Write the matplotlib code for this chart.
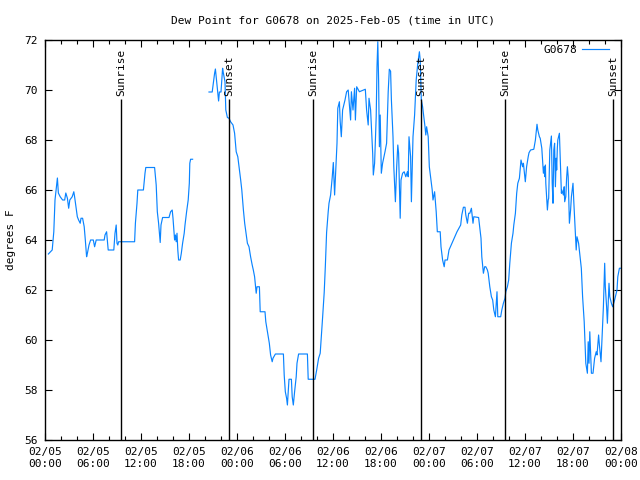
import numpy as np
import pandas as pd
import matplotlib
matplotlib.use('Agg')
import matplotlib.pyplot as plt
import matplotlib.dates as mdates

plt.rcParams['font.family'] = 'DejaVu Sans Mono'
plt.rcParams['font.size'] = 8

station = "G0678"
title = "Dew Point for G0678 on 2025-Feb-05 (time in UTC)"
start = pd.Timestamp("2025-02-05 00:00")

# hours since start, dew point (F); NaN marks the data gap
hours = [0.42, 0.9, 1.1, 1.25, 1.4, 1.55, 1.67, 1.9, 2.2, 2.46, 2.6, 2.8, 2.96, 3.1, 3.4,
         3.6, 3.7, 3.9, 4.04, 4.2, 4.4, 4.5, 4.7, 4.9, 5.04, 5.2, 5.3, 5.5, 5.7, 6.04,
         6.2, 6.4, 7.4, 7.5, 7.7, 7.9, 8.6, 8.75, 8.9, 9.0, 9.1, 9.2, 11.2, 11.3, 11.5,
         11.6, 12.3, 12.5, 12.6, 13.7, 13.9, 14.04, 14.2, 14.4, 14.5, 14.7, 15.5, 15.7, 15.9, 16.0,
         16.2, 16.3, 16.4, 16.5, 16.6, 16.7, 16.9, 17.04, 17.2, 17.4, 17.5, 17.7, 17.9, 18.04, 18.1,
         18.2, 18.45,
         19.5,
         20.5, 20.9, 21.04, 21.2, 21.3, 21.4, 21.6, 21.7, 21.8, 22.0, 22.2, 22.3, 22.5, 22.6, 22.8,
         23.0, 23.2, 23.5, 23.7, 23.9, 24.1, 24.46, 24.6, 24.8, 24.96, 25.1, 25.3, 25.5, 25.7, 25.9,
         26.04, 26.2, 26.4, 26.5, 26.8, 26.9, 27.5, 27.6, 27.9, 28.04, 28.2, 28.4, 28.5, 28.8, 29.8,
         29.9, 30.04, 30.2, 30.3, 30.4, 30.5, 30.8, 30.9, 31.04, 31.2, 31.4, 31.5, 31.7, 32.8, 32.9,
         33.75, 33.96, 34.2, 34.4, 34.5, 34.7, 34.9, 35.04, 35.2, 35.4, 35.5, 35.7, 35.9, 36.04, 36.2,
         36.5, 36.6, 36.8, 36.9, 37.04, 37.2, 37.5, 37.7, 37.9, 38.2, 38.3, 38.5, 38.7, 38.8, 38.96,
         39.3, 40.04, 40.2, 40.4, 40.5, 40.7, 40.96, 41.04, 41.2, 41.4, 41.5, 41.6, 41.7, 41.8, 41.9,
         42.04, 42.2, 42.5, 42.7, 42.9, 43.04, 43.2, 43.3, 43.5, 43.6, 43.8, 43.96, 44.1, 44.2, 44.4,
         44.5, 44.7, 44.9, 45.1, 45.3, 45.4, 45.5, 45.7, 45.8, 46.0, 46.2, 46.4, 46.6, 46.8, 46.9,
         47.04, 47.2, 47.5, 47.6, 47.7, 47.9, 48.04, 48.2, 48.4, 48.5, 48.7, 48.9, 49.04, 49.4, 49.5,
         49.7, 49.9, 50.0, 50.3, 50.5, 51.04, 51.5, 51.96, 52.1, 52.3, 52.5, 52.6, 52.8, 52.96, 53.1,
         53.3, 53.5, 53.6, 54.2, 54.5, 54.6, 54.8, 54.96, 55.1, 55.3, 55.4, 55.6, 55.8, 55.96, 56.1,
         56.3, 56.5, 56.6, 56.96, 57.1, 57.3, 57.5, 57.6, 57.8, 57.96, 58.1, 58.3, 58.5, 58.6, 58.8,
         58.96, 59.1, 59.3, 59.5, 59.7, 59.8, 60.04, 60.2, 60.4, 60.5, 60.7, 61.1, 61.3, 61.5, 61.6,
         61.8, 61.9, 62.1, 62.3, 62.4, 62.5, 62.55, 62.6, 62.8, 62.9, 62.96, 63.1, 63.3, 63.4, 63.5,
         63.6, 63.7, 63.8, 63.9, 63.96, 64.04, 64.1, 64.3, 64.4, 64.5, 64.55, 64.6, 64.8, 64.9, 64.96,
         65.1, 65.2, 65.3, 65.4, 65.5, 65.55, 65.7, 65.8, 65.9, 66.0, 66.1, 66.3, 66.4, 66.5, 66.7,
         66.9, 67.04, 67.2, 67.4, 67.5, 67.6, 67.8, 67.9, 68.0, 68.1, 68.3, 68.5, 68.7, 68.9, 69.0,
         69.2, 69.3, 69.5, 69.6, 69.8, 69.96, 70.04, 70.2, 70.3, 70.5, 70.6, 70.8, 70.96, 71.2, 71.5,
         71.6, 71.8, 71.96]

dewpoint = [63.44, 63.6, 64.33, 65.6, 66.04, 66.48, 65.88, 65.73, 65.6, 65.6, 65.88, 65.67, 65.27, 65.6, 65.73,
            65.93, 65.73, 65.27, 64.93, 64.8, 64.67, 64.87, 64.87, 64.53, 64.0, 63.33, 63.47, 63.8, 64.0, 64.0,
            63.73, 64.0, 64.0, 64.2, 64.33, 63.6, 63.6, 64.27, 64.6, 63.87, 63.8, 63.93, 63.93, 64.67, 65.47,
            66.0, 66.0, 66.67, 66.9, 66.9, 66.2, 65.13, 64.67, 63.9, 64.6, 64.9, 64.9, 65.13, 65.2, 64.87,
            64.0, 64.2, 63.93, 64.27, 63.6, 63.2, 63.2, 63.47, 63.87, 64.27, 64.6, 65.13, 65.6, 66.27, 67.07,
            67.23, 67.23,
            np.nan,
            69.92, 69.92, 70.27, 70.67, 70.84, 70.53, 69.92, 69.56, 69.92, 69.92, 70.87, 70.67, 70.33, 69.2, 68.9,
            68.87, 68.73, 68.6, 68.27, 67.53, 67.33, 66.4, 66.0, 65.2, 64.67, 64.33, 63.87, 63.73, 63.33, 63.0,
            62.8, 62.53, 61.87, 62.13, 62.13, 61.13, 61.13, 60.73, 60.13, 59.87, 59.4, 59.13, 59.27, 59.44, 59.44,
            58.6, 57.93, 57.67, 57.4, 57.93, 58.43, 58.43, 57.73, 57.4, 57.93, 58.53, 59.07, 59.44, 59.44, 58.43,
            58.43, 58.8, 59.27, 59.47, 59.93, 60.9, 61.9, 62.93, 64.3, 65.13, 65.47, 65.8, 66.5, 67.1, 65.8,
            67.87, 69.27, 69.53, 68.73, 68.13, 69.2, 69.6, 69.93, 70.0, 68.8, 69.93, 69.2, 70.07, 68.8, 70.13,
            69.93, 70.03, 69.2, 68.6, 69.67, 69.2, 67.47, 66.6, 67.07, 68.93, 70.93, 71.93, 70.4, 67.73, 69.0,
            66.67, 67.07, 67.53, 67.87, 69.93, 70.83, 70.75, 69.6, 68.13, 66.93, 65.53, 66.93, 67.8, 67.47, 64.87,
            66.4, 66.67, 66.73, 66.53, 66.73, 66.53, 68.13, 67.33, 65.53, 68.13, 69.0, 70.4, 71.07, 71.53, 71.2,
            69.6, 69.33, 68.53, 68.2, 68.53, 68.13, 66.93, 66.53, 66.0, 65.6, 65.93, 65.13, 64.33, 64.33, 63.73,
            63.2, 62.93, 63.2, 63.2, 63.6, 64.0, 64.33, 64.6, 65.0, 65.31, 65.31, 65.0, 64.67, 65.07, 65.07,
            65.27, 64.67, 64.93, 64.9, 64.07, 63.33, 62.67, 62.93, 62.93, 62.8, 62.67, 62.13, 61.73, 61.6, 61.2,
            60.93, 61.93, 60.93, 60.93, 61.2, 61.47, 61.67, 61.93, 62.13, 62.4, 63.07, 63.87, 64.27, 64.6, 65.07,
            65.87, 66.27, 66.47, 67.2, 66.93, 67.07, 66.33, 66.93, 67.33, 67.49, 67.6, 67.63, 68.0, 68.63, 68.4,
            68.13, 68.07, 67.67, 66.67, 66.93, 66.53, 67.0, 66.27, 65.2, 65.6, 65.67, 67.6, 68.16, 66.27, 65.47,
            67.6, 67.87, 66.13, 67.27, 66.8, 67.67, 68.0, 68.27, 67.33, 66.4, 65.87, 66.0, 65.8, 66.13, 65.53,
            65.73, 66.47, 66.93, 66.53, 65.2, 64.67, 65.2, 65.73, 66.0, 66.27, 65.53, 64.2, 63.6, 64.13, 63.87,
            63.27, 62.87, 61.73, 60.73, 59.93, 59.07, 58.67, 59.93, 59.07, 60.33, 58.67, 58.67, 59.27, 59.53, 59.4,
            60.2, 59.8, 59.13, 59.87, 61.33, 63.07, 62.13, 61.33, 60.67, 62.27, 61.73, 61.47, 61.33, 61.6, 62.0,
            62.53, 62.87, 62.87]

# sunrise / sunset, hours since start
sun_hours = [9.5, 23.0, 33.5, 47.0, 57.5, 71.0]
sun_labels = ["Sunrise", "Sunset", "Sunrise", "Sunset", "Sunrise", "Sunset"]

times = start + pd.to_timedelta(hours, unit='h')
sun_times = start + pd.to_timedelta(sun_hours, unit='h')

fig = plt.figure(figsize=(6.4, 4.8), dpi=100)
ax = fig.add_axes([45 / 640, 40 / 480, 576 / 640, 400 / 480])

ax.plot(times, dewpoint, color='#0a84ff', lw=0.85, label=station)

ax.vlines(sun_times, 56, 69.64, color='black', lw=1.0)
for t, lab in zip(sun_times, sun_labels):
    ax.text(t, 69.75, lab, rotation=90, ha='center', va='bottom', fontsize=8)

ax.set_xlim(start, start + pd.Timedelta(hours=72))
ax.set_ylim(56, 72)
ax.set_yticks(np.arange(56, 73, 2))
ax.xaxis.set_major_locator(mdates.HourLocator(byhour=[0, 6, 12, 18]))
ax.xaxis.set_minor_locator(mdates.HourLocator(byhour=range(0, 24, 2)))
ax.xaxis.set_major_formatter(mdates.DateFormatter('%m/%d\n%H:%M'))
ax.tick_params(which='both', direction='in', top=True, right=True, labelsize=8)
ax.tick_params(which='major', length=5, width=0.8, pad=5)
ax.tick_params(which='minor', length=3, width=0.8)
for s in ax.spines.values():
    s.set_linewidth(1.0)

ax.set_ylabel("degrees F", fontsize=8, labelpad=6)
ax.set_title(title, fontsize=8, pad=12)
ax.legend(loc='upper right', bbox_to_anchor=(0.987, 0.998), frameon=False, markerfirst=False,
          handlelength=2.4, fontsize=8, borderaxespad=0, handletextpad=0.5)

fig.savefig("out.png", dpi=100)
